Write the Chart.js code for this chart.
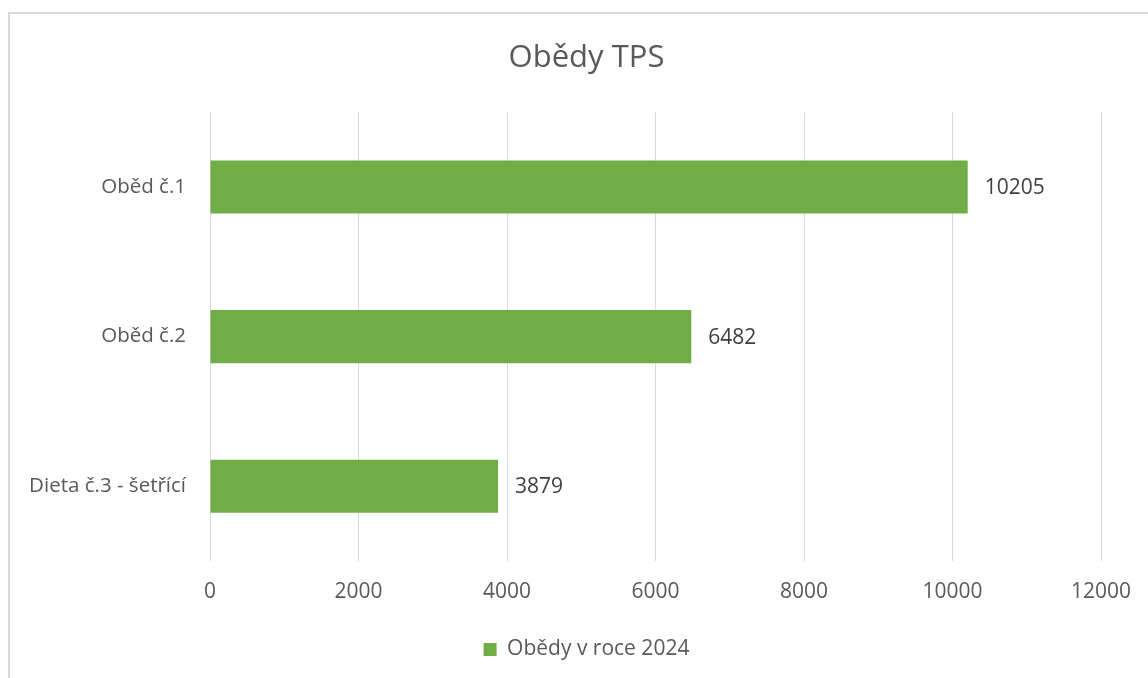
<!DOCTYPE html>
<html>
<head>
<meta charset="utf-8">
<script src="https://cdn.jsdelivr.net/npm/chart.js@4/dist/chart.umd.min.js"></script>
<style>
  body { margin: 0; background: #fff; overflow: hidden; width: 1148px; height: 678px; position: relative; }
  #frame {
    position: absolute; left: 8px; top: 12px;
    width: 1200px; height: 720px;
    border: 2px solid #d9d9d9; box-sizing: border-box;
  }
  #wrap { position: absolute; left: 0; top: 0; width: 1172px; height: 678px; }
</style>
</head>
<body>
<div id="frame"></div>
<div id="wrap"><canvas id="chart" width="1172" height="678"></canvas></div>
<script>
const categories = ["Oběd č.1", "Oběd č.2", "Dieta č.3 - šetřící"];
const lunches2024 = [10205, 6482, 3879];
const xTicks = [0, 2000, 4000, 6000, 8000, 10000, 12000];

const fontFamily = "'Open Sans', 'DejaVu Sans', sans-serif";
const textGrey = "#595959";
const barGreen = "#70ad47";

// Draw the value next to each bar end
const valueLabels = {
  id: "valueLabels",
  afterDatasetsDraw(chart) {
    const ctx = chart.ctx;
    const meta = chart.getDatasetMeta(0);
    ctx.save();
    ctx.font = "21px " + fontFamily;
    ctx.fillStyle = "#404040";
    ctx.textAlign = "left";
    ctx.textBaseline = "middle";
    meta.data.forEach((bar, i) => {
      ctx.fillText(String(lunches2024[i]), bar.x + 17, bar.y + 1);
    });
    ctx.restore();
  },
};

// Title and legend sit a bit right of the plot centre in the original
const shiftBlocks = {
  id: "shiftBlocks",
  afterLayout(chart) {
    [chart.titleBlock, chart.legend].forEach((box) => {
      if (box) {
        box.left += 31;
        box.right += 31;
      }
    });
  },
};

const ctx = document.getElementById("chart").getContext("2d");
new Chart(ctx, {
  type: "bar",
  data: {
    labels: categories,
    datasets: [
      {
        label: "Obědy v roce 2024",
        data: lunches2024,
        backgroundColor: barGreen,
        borderWidth: 0,
        barPercentage: 1,
        categoryPercentage: 0.355,
      },
    ],
  },
  options: {
    indexAxis: "y",
    responsive: false,
    animation: false,
    layout: { padding: { left: 10, right: 71, top: 0, bottom: 8 } },
    plugins: {
      title: {
        display: true,
        text: "Obědy TPS",
        color: textGrey,
        font: { family: fontFamily, size: 31, weight: "normal" },
        padding: { top: 40, bottom: 35 },
      },
      legend: {
        position: "bottom",
        labels: {
          color: textGrey,
          font: { family: fontFamily, size: 21 },
          boxWidth: 13,
          boxHeight: 13,
          padding: 10,
        },
      },
      tooltip: { enabled: false },
    },
    scales: {
      x: {
        min: 0,
        max: 12000,
        afterBuildTicks: (scale) => {
          scale.ticks = xTicks.map((v) => ({ value: v }));
        },
        afterFit: (scale) => {
          scale.height = 68;
        },
        ticks: {
          color: textGrey,
          font: { family: fontFamily, size: 21 },
          padding: 18,
          maxRotation: 0,
          callback: (v) => String(v),
        },
        grid: { color: "#d9d9d9", lineWidth: 1, drawTicks: false },
        border: { display: false },
      },
      y: {
        afterFit: (scale) => {
          scale.width = 200;
        },
        ticks: {
          color: textGrey,
          font: { family: fontFamily, size: 20.5 },
          padding: 16,
        },
        grid: { display: false },
        border: { display: false },
      },
    },
  },
  plugins: [valueLabels, shiftBlocks],
});
</script>
</body>
</html>
